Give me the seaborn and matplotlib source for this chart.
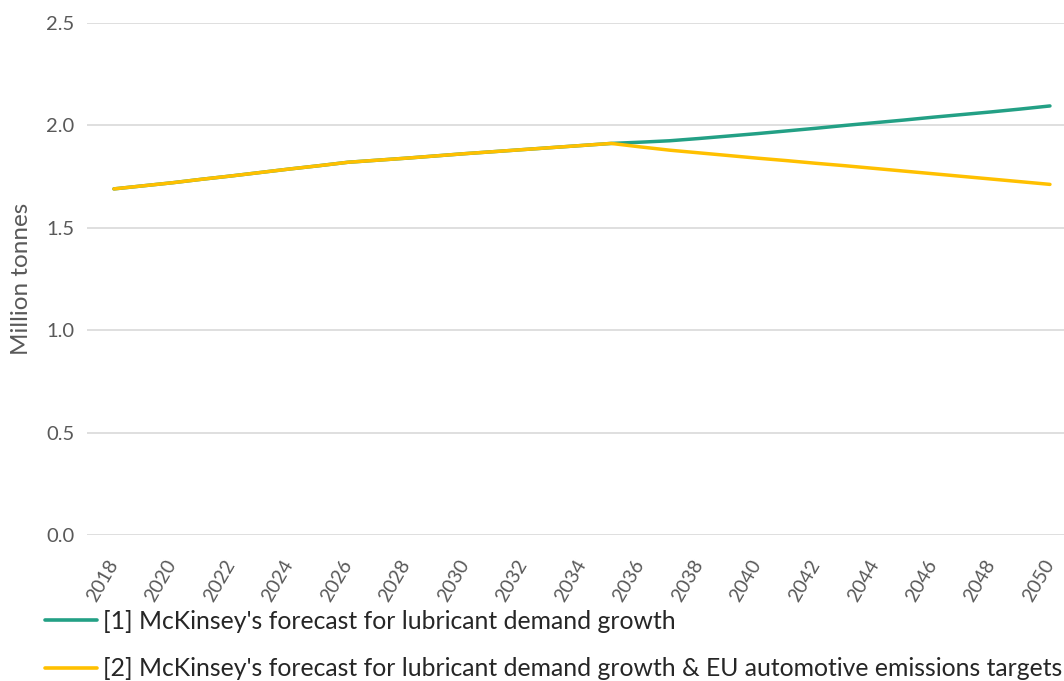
import numpy as np
import pandas as pd
import matplotlib
matplotlib.use("Agg")
import matplotlib.pyplot as plt
import seaborn as sns

# Lubricant demand forecast, million tonnes
years = list(range(2018, 2051))
shared = [1.690, 1.705, 1.720, 1.737, 1.753, 1.770, 1.787, 1.803, 1.820,
          1.830, 1.840, 1.851, 1.862, 1.872, 1.882, 1.892, 1.902, 1.912]
growth_tail = [1.918, 1.925, 1.936, 1.948, 1.960, 1.973, 1.986, 2.000,
               2.013, 2.026, 2.040, 2.053, 2.066, 2.080, 2.095]
targets_tail = [1.895, 1.879, 1.866, 1.853, 1.840, 1.828, 1.815, 1.803,
                1.790, 1.777, 1.764, 1.751, 1.738, 1.725, 1.712]

series_names = [
    "[1] McKinsey's forecast for lubricant demand growth",
    "[2] McKinsey's forecast for lubricant demand growth & EU automotive emissions targets",
]
y_ticks = [0.0, 0.5, 1.0, 1.5, 2.0, 2.5]
x_ticks = list(range(2018, 2051, 2))

df = pd.DataFrame({
    "year": years * 2,
    "value": shared + growth_tail + shared + targets_tail,
    "series": [series_names[0]] * len(years) + [series_names[1]] * len(years),
})

sns.set_theme(style="white")
plt.rcParams["font.family"] = ["Lato", "DejaVu Sans"]

fig = plt.figure(figsize=(10.64, 6.81), dpi=100)
ax = fig.add_axes([87 / 1064, 146 / 681, (1064 - 87) / 1064, (535 - 23) / 681])

palette = {series_names[0]: "#23A085", series_names[1]: "#FFC000"}
sns.lineplot(data=df, x="year", y="value", hue="series", palette=palette,
             linewidth=2.5, ax=ax, legend=False, sort=True)

ax.set_xlim(2017.08, 2050.48)
ax.set_ylim(0, 2.5)
ax.set_yticks(y_ticks)
ax.set_yticklabels([f"{v:.1f}" for v in y_ticks])
ax.set_xticks(x_ticks)
ax.set_xticklabels([str(x) for x in x_ticks], rotation=60, ha="right",
                   rotation_mode="anchor", va="center")
ax.tick_params(axis="x", length=0, pad=19, labelsize=14, labelcolor="#595959")
ax.tick_params(axis="y", length=0, pad=9, labelsize=14.5, labelcolor="#595959")
ax.yaxis.grid(True, color="#D9D9D9", linewidth=1.2)
ax.xaxis.grid(False)
for s in ax.spines.values():
    s.set_visible(False)
ax.set_xlabel("")
ax.set_ylabel("Million tonnes", fontsize=17.5, color="#595959", labelpad=10)

handles = [plt.Line2D([], [], color=palette[n], linewidth=2.6) for n in series_names]
fig.legend(handles, series_names, loc="upper left",
           bbox_to_anchor=(45 / 1064, 1 - 610 / 681), frameon=False,
           fontsize=17.8, labelcolor="#262626", handlelength=2.1,
           handletextpad=0.25, labelspacing=0.98, borderpad=0, borderaxespad=0)

fig.savefig("out.png", dpi=100)
